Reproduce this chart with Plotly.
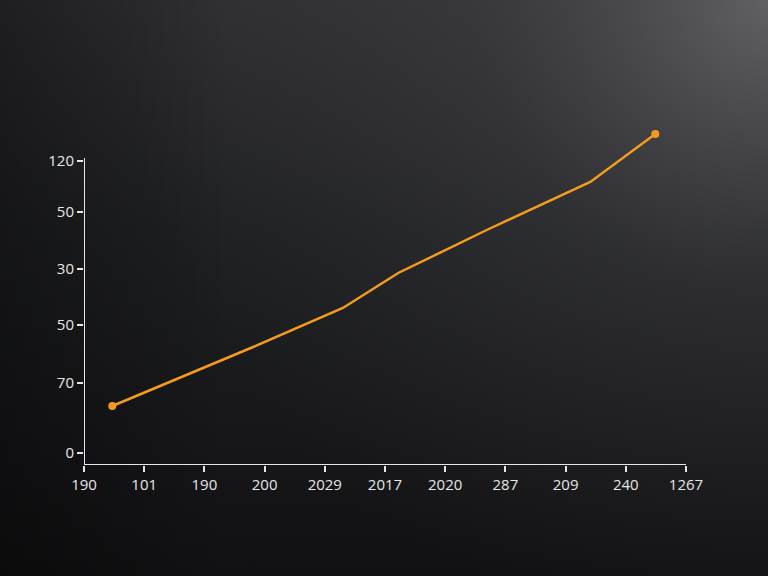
import base64
import plotly.graph_objects as go

# ===== data =====
x_labels = ["190", "101", "190", "200", "2029", "2017", "2020", "287", "209", "240", "1267"]
y_tick_vals = [0, 70, 128, 184, 241, 292]
y_tick_text = ["0", "70", "50", "30", "50", "120"]

line_x = [0.47, 1.93, 2.81, 4.30, 5.22, 6.69, 8.41, 9.49]
line_y = [47, 84, 106, 145, 180, 223, 271, 319]

# ===== background: dark vertical fade + light glow top-right =====
svg = (
    '<svg xmlns="http://www.w3.org/2000/svg" width="768" height="576">'
    '<defs>'
    '<linearGradient id="v" x1="0" y1="0" x2="0" y2="1">'
    '<stop offset="0" stop-color="#2f2f32"/>'
    '<stop offset="0.4" stop-color="#1f2023"/>'
    '<stop offset="1" stop-color="#111113"/>'
    '</linearGradient>'
    '<radialGradient id="g" cx="768" cy="0" r="650" gradientUnits="userSpaceOnUse">'
    '<stop offset="0" stop-color="#66666a" stop-opacity="0.9"/>'
    '<stop offset="0.45" stop-color="#4a4a4e" stop-opacity="0.35"/>'
    '<stop offset="1" stop-color="#3a3a3e" stop-opacity="0"/>'
    '</radialGradient>'
    '<linearGradient id="h" x1="0" y1="0" x2="1" y2="0">'
    '<stop offset="0" stop-color="#000" stop-opacity="0.35"/>'
    '<stop offset="0.3" stop-color="#000" stop-opacity="0"/>'
    '</linearGradient>'
    '</defs>'
    '<rect width="768" height="576" fill="url(#v)"/>'
    '<rect width="768" height="576" fill="url(#g)"/>'
    '<rect width="768" height="576" fill="url(#h)"/></svg>'
)
bg_src = "data:image/svg+xml;base64," + base64.b64encode(svg.encode()).decode()

L, R, T, B = 84, 82, 120, 111
pw, ph = 768 - L - R, 576 - T - B

fig = go.Figure()
fig.add_trace(go.Scatter(
    x=line_x, y=line_y,
    mode="lines",
    line=dict(color="#f39c1e", width=2.5),
    hoverinfo="skip",
))
fig.add_trace(go.Scatter(
    x=[line_x[0], line_x[-1]], y=[line_y[0], line_y[-1]],
    mode="markers",
    marker=dict(color="#f39c1e", size=8),
    cliponaxis=False,
    hoverinfo="skip",
))

axis_col = "#e6e6e6"
# axis lines
fig.add_shape(type="line", x0=0, x1=10, y0=-12, y1=-12, xref="x", yref="y",
              line=dict(color=axis_col, width=2))
fig.add_shape(type="line", x0=0, x1=0, y0=-12, y1=295, xref="x", yref="y",
              line=dict(color=axis_col, width=2))

fig.update_layout(
    width=768, height=576,
    margin=dict(l=L, r=R, t=T, b=B),
    paper_bgcolor="#18181b",
    plot_bgcolor="rgba(0,0,0,0)",
    showlegend=False,
    font=dict(family="Open Sans", size=15, color=axis_col),
    images=[dict(
        source=bg_src, xref="paper", yref="paper",
        x=-L / pw, y=1 + T / ph, sizex=768 / pw, sizey=576 / ph,
        xanchor="left", yanchor="top", sizing="stretch", layer="below",
    )],
    xaxis=dict(
        range=[0, 10], tickvals=list(range(len(x_labels))), ticktext=x_labels,
        showgrid=False, zeroline=False, showline=False,
        ticks="outside", ticklen=6, tickwidth=2, tickcolor=axis_col,
        tickfont=dict(size=15, color=axis_col),
    ),
    yaxis=dict(
        range=[-12, 333], tickvals=y_tick_vals, ticktext=y_tick_text,
        showgrid=False, zeroline=False, showline=False,
        ticks="outside", ticklen=6, tickwidth=2, tickcolor=axis_col,
        tickfont=dict(size=15, color=axis_col),
    ),
)

fig.write_html("out.html", config={"displayModeBar": False},
               post_script="document.body.style.margin='0';")
